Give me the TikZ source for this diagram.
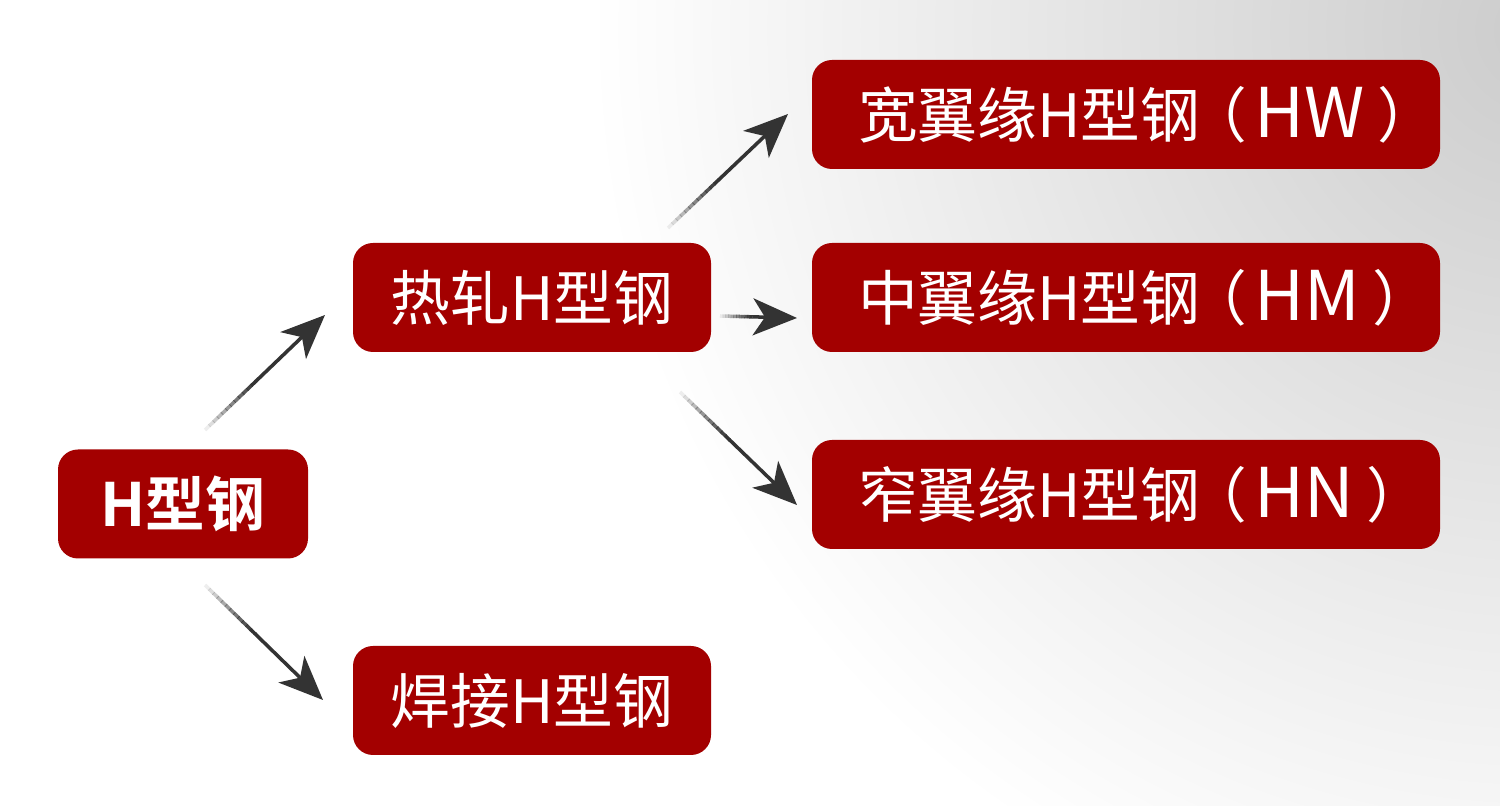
\documentclass[tikz,border=0pt]{standalone}
\usepackage{fontspec}
\setmainfont{Noto Sans CJK SC}[BoldFont={Noto Sans CJK SC Bold}]
\usetikzlibrary{arrows.meta,calc}
\definecolor{boxred}{HTML}{A30000}
\definecolor{arrowgray}{HTML}{333333}
\tikzset{
  box/.style={fill=boxred, rounded corners=0.2cm, text=white, inner sep=0pt,
    minimum height=1.09cm, font=\fontsize{17}{20}\selectfont},
  smallbox/.style={box, minimum width=2.5cm},
  midbox/.style={box, minimum width=3.58cm},
  bigbox/.style={box, minimum width=6.28cm},
  arr/.style={draw=arrowgray, line width=1pt,
    -{Stealth[length=0.44cm, width=0.37cm, inset=0.12cm, fill=arrowgray]}},
  tailseg/.style={draw=arrowgray, line width=1pt}
}
\newcommand\fadearrow[2]{%
  \foreach \i [evaluate=\i as \op using (\i+1)/12] in {0,...,11} {%
    \draw[tailseg, draw opacity=\op] ($(#1)!{\i*0.035}!(#2)$) -- ($(#1)!{(\i+1)*0.035+0.005}!(#2)$);
  }%
  \draw[arr] ($(#1)!0.42!(#2)$) -- (#2);%
}
\newcommand\bigtext[2]{\makebox[5.36cm][l]{#1\hspace{-0.13cm}（\hspace{0.08cm}{\fontsize{19.5}{20}\selectfont #2}\hspace{0.12cm}）}}
\begin{document}
\begin{tikzpicture}
\useasboundingbox (0,0) rectangle (15,-8.06);
\begin{scope}
\clip (0,0) rectangle (15,-8.06);
\fill[white] (0,0) rectangle (15,-8.06);
\shade[inner color=gray!40, outer color=white] (15.4,-0.3) circle (9.5);
\end{scope}

\node[smallbox, font=\fontsize{17}{20}\selectfont\bfseries] (h) at (1.83,-5.04) {H型钢};
\node[midbox] (rz) at (5.32,-2.975) {热轧H型钢};
\node[midbox] (hj) at (5.32,-7.005) {焊接H型钢};
\node[bigbox] (hw) at (11.26,-1.145) {\bigtext{宽翼缘H型钢}{HW}};
\node[bigbox] (hm) at (11.26,-2.975) {\bigtext{中翼缘H型钢}{HM}};
\node[bigbox] (hn) at (11.26,-4.945) {\bigtext{窄翼缘H型钢}{HN}};

\coordinate (a1s) at (2.05,-4.30); \coordinate (a1e) at (3.25,-3.15);
\coordinate (a2s) at (2.05,-5.85); \coordinate (a2e) at (3.23,-7.00);
\coordinate (a3s) at (6.68,-2.28); \coordinate (a3e) at (7.88,-1.14);
\coordinate (a4s) at (7.20,-3.16); \coordinate (a4e) at (7.97,-3.18);
\coordinate (a5s) at (6.80,-3.92); \coordinate (a5e) at (7.97,-5.05);

\fadearrow{a1s}{a1e}
\fadearrow{a2s}{a2e}
\fadearrow{a3s}{a3e}
\fadearrow{a4s}{a4e}
\fadearrow{a5s}{a5e}
\end{tikzpicture}
\end{document}
